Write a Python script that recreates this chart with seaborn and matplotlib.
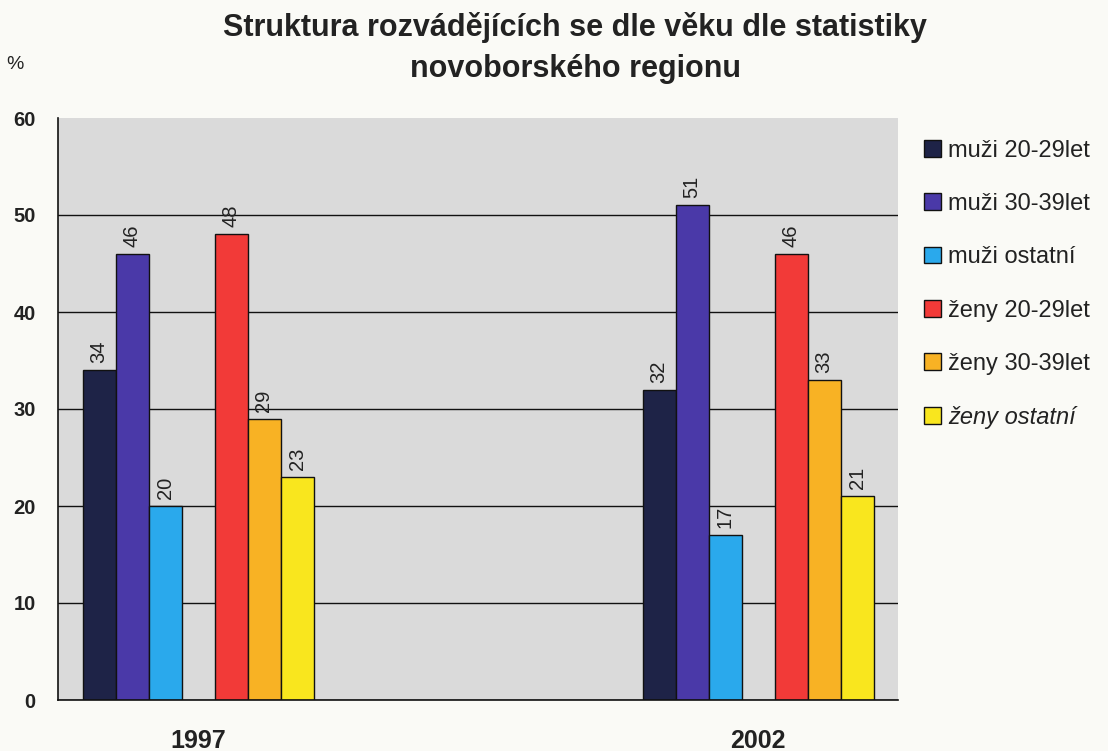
import matplotlib
matplotlib.use("Agg")
import matplotlib.pyplot as plt
import pandas as pd
import seaborn as sns

YEARS = ["1997", "2002"]
SERIES = ["muži 20-29let", "muži 30-39let", "muži ostatní",
          "ženy 20-29let", "ženy 30-39let", "ženy ostatní"]
VALUES_1997 = [34, 46, 20, 48, 29, 23]
VALUES_2002 = [32, 51, 17, 46, 33, 21]
COLORS = ["#1e2347", "#4a39a8", "#2aa9ec", "#f23a38", "#f8b224", "#f9e61e"]

# empty slots: Excel chart had a blank middle category and a blank series
GAP_YEAR = " "
GAP_SERIES = "_gap"

rows = []
for year, vals in zip(YEARS, [VALUES_1997, VALUES_2002]):
    for s, v in zip(SERIES, vals):
        rows.append({"rok": year, "skupina": s, "procento": v})
df = pd.DataFrame(rows)

order = [YEARS[0], GAP_YEAR, YEARS[1]]
hue_order = SERIES[:3] + [GAP_SERIES] + SERIES[3:]
palette = dict(zip(SERIES, COLORS))
palette[GAP_SERIES] = "#ffffff"

sns.set_style("white")
plt.rcParams["font.family"] = ["Liberation Sans", "DejaVu Sans"]

W, H = 1108, 751
fig = plt.figure(figsize=(W / 100, H / 100), dpi=100, facecolor="#fafaf6")
ax = fig.add_axes([58 / W, 1 - 700 / H, 840 / W, 582 / H])
ax.set_facecolor("#dadada")

sns.barplot(data=df, x="rok", y="procento", hue="skupina", order=order,
            hue_order=hue_order, palette=palette, width=0.825, gap=0,
            edgecolor="#111111", linewidth=1.0, saturation=1, ax=ax)

for cont in ax.containers:
    ax.bar_label(cont, fmt="%d", rotation=90, padding=5, fontsize=14.5, color="#222222")

ax.set_ylim(0, 60)
ax.set_yticks(range(0, 61, 10))
ax.yaxis.grid(True, color="#111111", linewidth=1.0)
ax.yaxis.get_gridlines()[-1].set_visible(False)
ax.set_axisbelow(True)

ax.set_xlim(-0.5, 2.5)
ax.set_xticks([0, 1, 2])
ax.set_xticklabels(["1997", "", "2002"], fontweight="bold", fontsize=18, color="#222222")
ax.set_xticks([-0.5, 0.5, 1.5, 2.5], minor=True)
ax.tick_params(axis="x", which="major", length=0, pad=21)
ax.tick_params(axis="x", which="minor", length=6, width=1.2, color="#111111", direction="out")
ax.tick_params(axis="y", length=7, width=1.2, color="#111111", labelsize=14.5, pad=9,
               labelcolor="#222222")
for lab in ax.get_yticklabels():
    lab.set_fontweight("bold")

for side in ["top", "right"]:
    ax.spines[side].set_visible(False)
for side in ["left", "bottom"]:
    ax.spines[side].set_color("#111111")
    ax.spines[side].set_linewidth(1.2)

ax.set_xlabel("")
ax.set_ylabel("")

handles, labels = ax.get_legend_handles_labels()
keep = [(h, l) for h, l in zip(handles, labels) if l != GAP_SERIES]
ax.legend_.remove()
leg = fig.legend([h for h, _ in keep], [l for _, l in keep],
                 loc="upper left", bbox_to_anchor=(924 / W, 1 - 140 / H),
                 frameon=False, fontsize=17, handlelength=0.72, handleheight=0.72,
                 handletextpad=0.3, labelspacing=1.32, borderaxespad=0, borderpad=0)
for t in leg.get_texts():
    t.set_color("#222222")
leg.get_texts()[-1].set_style("italic")

fig.text(575 / W, 1 - 36 / H, "Struktura rozvádějících se dle věku dle statistiky",
         ha="center", va="baseline", fontsize=22, fontweight="bold", color="#222222")
fig.text(575 / W, 1 - 77 / H, "novoborského regionu",
         ha="center", va="baseline", fontsize=22, fontweight="bold", color="#222222")
fig.text(6 / W, 1 - 69 / H, "%", fontsize=14, color="#222222", va="baseline")

fig.savefig("out.png", dpi=100, facecolor=fig.get_facecolor())
